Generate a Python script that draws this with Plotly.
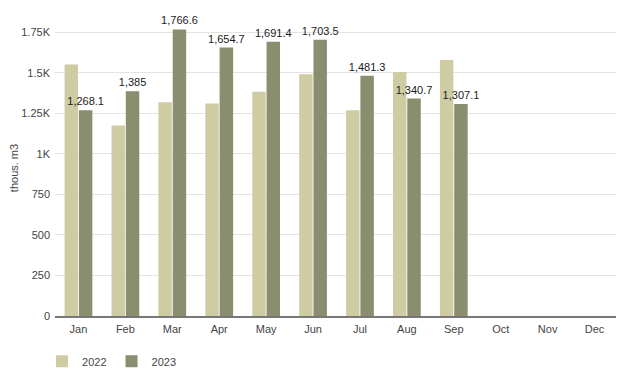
import plotly.graph_objects as go

months = ["Jan", "Feb", "Mar", "Apr", "May", "Jun", "Jul", "Aug", "Sep", "Oct", "Nov", "Dec"]
vals_2022 = [1550, 1175, 1318, 1310, 1382, 1490, 1268, 1505, 1578, None, None, None]
vals_2023 = [1268.1, 1385, 1766.6, 1654.7, 1691.4, 1703.5, 1481.3, 1340.7, 1307.1, None, None, None]
tick_vals = [0, 250, 500, 750, 1000, 1250, 1500, 1750]
tick_text = ["0", "250", "500", "750", "1K", "1.25K", "1.5K", "1.75K"]

font_family = "Liberation Sans, Arial, sans-serif"

fig = go.Figure()
fig.add_trace(go.Bar(name="2022", x=months, y=vals_2022, marker_color="#cfcca3",
                     marker_line_width=0))
fig.add_trace(go.Bar(name="2023", x=months, y=vals_2023, marker_color="#8a8e6e",
                     marker_line_width=0,
                     texttemplate="%{y:,}", textposition="outside",
                     constraintext="none",
                     textfont=dict(size=11, color="#1a1a1a", family=font_family),
                     cliponaxis=False))

fig.update_layout(
    width=624, height=388,
    margin=dict(l=47, r=14, t=12, b=80, autoexpand=False),
    paper_bgcolor="white", plot_bgcolor="white",
    barmode="group", bargap=0.39, bargroupgap=0.06,
    font=dict(family=font_family, size=11, color="#444444"),
    showlegend=True,
    legend=dict(orientation="h", x=-0.023, xanchor="left", y=-0.104, yanchor="top",
                font=dict(size=11, color="#444444"), itemwidth=30),
)
fig.update_xaxes(type="category", categoryorder="array", categoryarray=months,
                 showgrid=False, showline=True, linecolor="#777777", linewidth=1.5,
                 ticks="", tickfont=dict(size=11, color="#444444"), fixedrange=True,
                 ticklabelstandoff=2, automargin=False)
fig.update_yaxes(range=[0, 1825], tickvals=tick_vals, ticktext=tick_text,
                 showgrid=True, gridcolor="#e4e4e4", gridwidth=1,
                 zeroline=False, showline=False,
                 tickfont=dict(size=11, color="#444444"), ticklabelstandoff=4,
                 title=dict(text="thous. m3", font=dict(size=11, color="#444444"), standoff=0),
                 fixedrange=True, automargin=False)

fig.write_html("out.html")
